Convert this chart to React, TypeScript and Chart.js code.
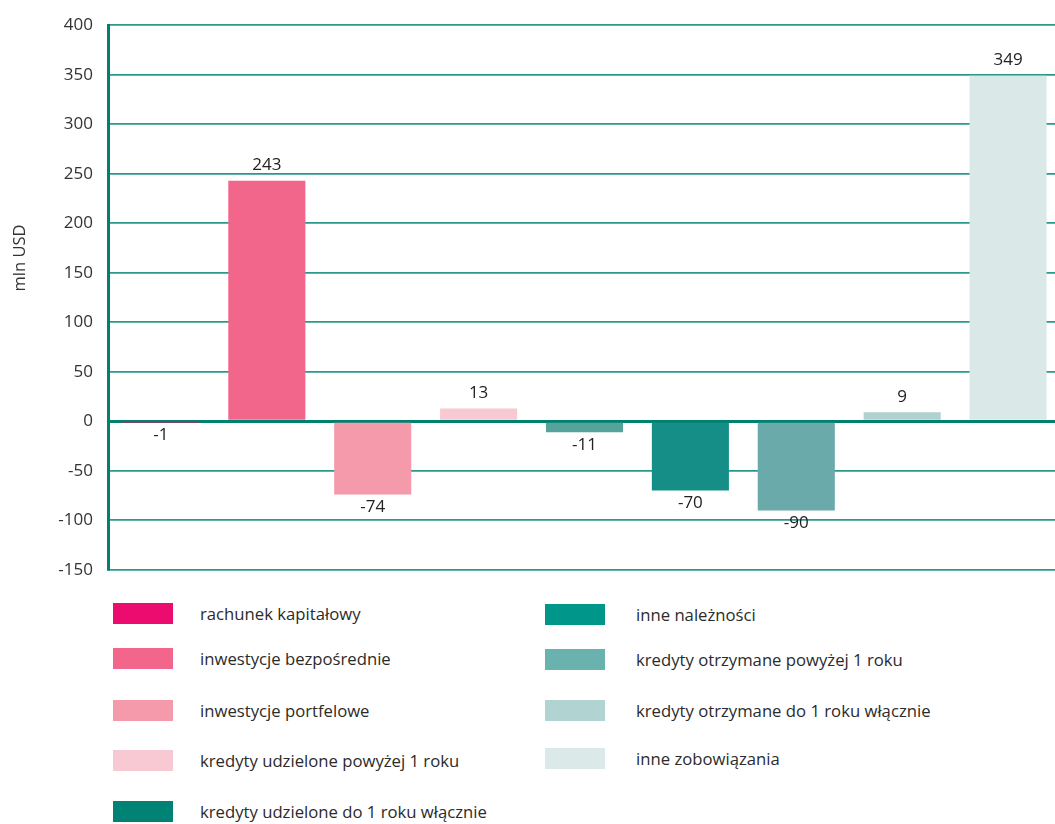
import React, { useEffect, useRef } from "react";
import { Chart, registerables } from "chart.js";

Chart.register(...registerables);

const categories = [
  "rachunek kapitałowy",
  "inwestycje bezpośrednie",
  "inwestycje portfelowe",
  "kredyty udzielone powyżej 1 roku",
  "kredyty udzielone do 1 roku włącznie",
  "inne należności",
  "kredyty otrzymane powyżej 1 roku",
  "kredyty otrzymane do 1 roku włącznie",
  "inne zobowiązania",
];
const values = [-1, 243, -74, 13, -11, -70, -90, 9, 349];
const barColors = [
  "#EC0B6E",
  "#F2668C",
  "#F49AAB",
  "#F8C9D2",
  "#55A39A",
  "#168E88",
  "#6BAAAA",
  "#B0D1D0",
  "#DAE8E8",
];
const legendColors = [
  "#EC0B6E",
  "#F2668C",
  "#F49AAB",
  "#F8C9D2",
  "#008274",
  "#00978A",
  "#6AB2AE",
  "#B1D4D2",
  "#DBEAE9",
];
const yMin = -150;
const yMax = 400;
const yStep = 50;
const yTitle = "mln USD";

const FONT = "'Open Sans', 'Noto Sans', sans-serif";

const valueLabels = {
  id: "valueLabels",
  afterDatasetsDraw(chart: any) {
    const ctx = chart.ctx;
    const meta = chart.getDatasetMeta(0);
    ctx.save();
    ctx.font = `17px ${FONT}`;
    ctx.fillStyle = "#222";
    ctx.textAlign = "center";
    meta.data.forEach((el: any, i: number) => {
      const v = values[i];
      const top = Math.min(el.y, el.base);
      const bottom = Math.max(el.y, el.base);
      if (v >= 0) {
        ctx.textBaseline = "bottom";
        ctx.fillText(String(v), el.x, top - 7);
      } else {
        ctx.textBaseline = "top";
        ctx.fillText(String(v), el.x, bottom + 4);
      }
    });
    ctx.restore();
  },
};

const axisTitle = {
  id: "axisTitle",
  afterDraw(chart: any) {
    const ctx = chart.ctx;
    ctx.save();
    ctx.font = `16.5px ${FONT}`;
    ctx.fillStyle = "#333";
    ctx.textAlign = "center";
    ctx.textBaseline = "middle";
    ctx.translate(20, 258);
    ctx.rotate(-Math.PI / 2);
    ctx.fillText(yTitle, 0, 0);
    ctx.restore();
  },
};

export default function App() {
  const ref = useRef<HTMLCanvasElement | null>(null);

  useEffect(() => {
    if (!ref.current) return;
    const chart = new Chart(ref.current, {
      type: "bar",
      data: {
        labels: categories,
        datasets: [
          {
            data: values,
            backgroundColor: barColors,
            borderWidth: 0,
            barPercentage: 0.728,
            categoryPercentage: 1,
          },
        ],
      },
      options: {
        responsive: false,
        animation: false,
        maintainAspectRatio: false,
        layout: { padding: { top: 25, bottom: 16, left: 0, right: 0 } },
        plugins: {
          legend: { display: false },
          tooltip: { enabled: false },
          title: { display: false },
        },
        scales: {
          x: {
            display: false,
          },
          y: {
            min: yMin,
            max: yMax,
            afterFit(scale: any) {
              scale.width = 108;
            },
            ticks: {
              stepSize: yStep,
              padding: 15,
              color: "#333",
              font: { family: FONT, size: 17 },
            },
            border: { color: "#00806F", width: 3 },
            grid: {
              drawTicks: false,
              color: (c: any) => (c.tick && c.tick.value === 0 ? "#00806F" : "#2A988B"),
              lineWidth: (c: any) => (c.tick && c.tick.value === 0 ? 3 : 1.7),
            },
          },
        },
      },
      plugins: [valueLabels, axisTitle],
    });
    return () => chart.destroy();
  }, []);

  const left = [0, 1, 2, 3, 4];
  const right = [5, 6, 7, 8];
  const leftTops = [603, 648, 700, 750, 801];
  const rightTops = [604, 649, 700, 748];

  const item = (i: number, x: number, top: number, textX: number) => (
    <div key={i} style={{ position: "absolute", left: 0, top, height: 21, width: 1055 }}>
      <div
        style={{
          position: "absolute",
          left: x,
          top: 0,
          width: 60,
          height: 21,
          background: legendColors[i],
        }}
      />
      <div
        style={{
          position: "absolute",
          left: textX,
          top: 0,
          height: 21,
          lineHeight: "21px",
          fontFamily: FONT,
          fontSize: 16.7,
          color: "#2b2b2b",
          whiteSpace: "nowrap",
        }}
      >
        {categories[i]}
      </div>
    </div>
  );

  return (
    <div
      style={{
        position: "absolute",
        left: 0,
        top: 0,
        width: 1055,
        height: 824,
        overflow: "hidden",
        background: "#fff",
      }}
    >
      <canvas ref={ref} width={1061} height={595} style={{ position: "absolute", left: 0, top: 0 }} />
      {left.map((i, k) => item(i, 113, leftTops[k], 200))}
      {right.map((i, k) => item(i, 545, rightTops[k], 636))}
    </div>
  );
}
